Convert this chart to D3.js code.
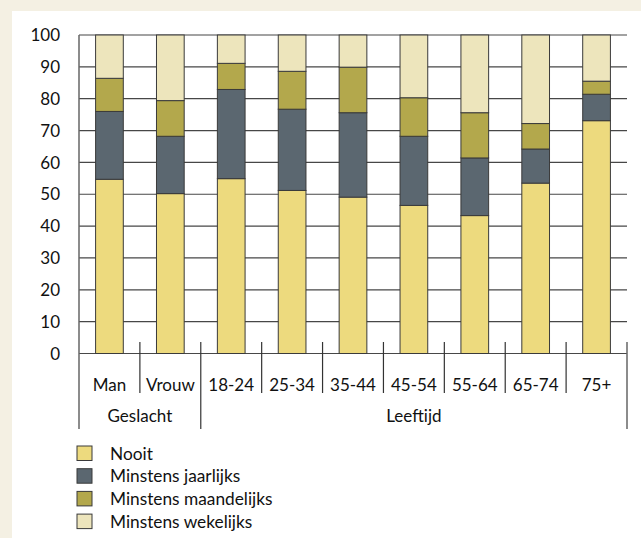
<!DOCTYPE html>
<html>
<head>
<meta charset="utf-8">
<script src="https://cdn.jsdelivr.net/npm/d3@7"></script>
<style>
  html, body { margin: 0; padding: 0; background: #F4F0E3; }
  svg { display: block; }
  text { font-family: Lato, "Open Sans", sans-serif; fill: #111; }
</style>
</head>
<body>
<svg id="chart" width="641" height="538"></svg>
<script>
const categories = ["Man", "Vrouw", "18-24", "25-34", "35-44", "45-54", "55-64", "65-74", "75+"];
const groups = [
  { name: "Geslacht", members: ["Man", "Vrouw"] },
  { name: "Leeftijd", members: ["18-24", "25-34", "35-44", "45-54", "55-64", "65-74", "75+"] }
];
const seriesNames = ["Nooit", "Minstens jaarlijks", "Minstens maandelijks", "Minstens wekelijks"];
const nooit       = [54.7, 50.2, 54.9, 51.2, 49.1, 46.5, 43.3, 53.5, 73.1];
const jaarlijks   = [21.3, 18.0, 28.0, 25.5, 26.5, 21.7, 18.1, 10.7,  8.3];
const maandelijks = [10.4, 11.2,  8.2, 11.9, 14.3, 12.1, 14.2,  8.0,  4.1];
const wekelijks   = [13.6, 20.6,  8.9, 11.4, 10.1, 19.7, 24.4, 27.8, 14.5];
const yTicks = [0, 10, 20, 30, 40, 50, 60, 70, 80, 90, 100];
const colors = ["#EDDA7E", "#5B6770", "#B3A84C", "#EDE5BC"];

(function () {
const rows = categories.map((c, i) => ({
  cat: c,
  "Nooit": nooit[i],
  "Minstens jaarlijks": jaarlijks[i],
  "Minstens maandelijks": maandelijks[i],
  "Minstens wekelijks": wekelijks[i]
}));

const svg = d3.select("#chart");
svg.append("rect").attr("x", 12).attr("y", 11).attr("width", 641 - 12).attr("height", 538 - 11).attr("fill", "#ffffff");

const pL = 79, pR = 627, pT = 35, pB = 353.5;
const fs = 17;
const x = d3.scaleBand().domain(categories).range([pL, pR]).paddingInner(0.545).paddingOuter(0.2725);
const y = d3.scaleLinear().domain([0, 100]).range([pB, pT]);

const gridColor = "#474747";

svg.append("g").selectAll("line").data(yTicks).join("line")
  .attr("x1", pL).attr("x2", pR)
  .attr("y1", d => y(d)).attr("y2", d => y(d))
  .attr("stroke", gridColor).attr("stroke-width", 1.2);

svg.append("g").selectAll("text").data(yTicks).join("text")
  .attr("x", 60).attr("y", d => y(d)).attr("dy", "0.36em")
  .attr("text-anchor", "end").attr("font-size", fs)
  .text(d => d);

svg.append("line").attr("x1", pL).attr("x2", pL).attr("y1", pT).attr("y2", 429)
  .attr("stroke", "#666").attr("stroke-width", 1.5);

const stack = d3.stack().keys(seriesNames)(rows);
svg.append("g").selectAll("g").data(stack).join("g")
  .attr("fill", (d, i) => colors[i])
  .selectAll("rect").data(d => d).join("rect")
  .attr("x", d => x(d.data.cat))
  .attr("width", x.bandwidth())
  .attr("y", d => y(d[1]))
  .attr("height", d => y(d[0]) - y(d[1]))
  .attr("stroke", "#3a3a3a").attr("stroke-width", 1);

const step = x.step();
const boundaries = d3.range(1, categories.length).map(i => pL + i * step);
const groupEnds = [];
let acc = 0;
groups.forEach(g => { acc += g.members.length; groupEnds.push(acc); });
svg.append("g").selectAll("line").data(boundaries).join("line")
  .attr("x1", d => d).attr("x2", d => d)
  .attr("y1", 342).attr("y2", (d, i) => groupEnds.includes(i + 1) ? 429 : 393)
  .attr("stroke", "#333").attr("stroke-width", 1.2);
svg.append("line").attr("x1", pR).attr("x2", pR).attr("y1", 342).attr("y2", 429)
  .attr("stroke", "#666").attr("stroke-width", 1.5);

svg.append("g").selectAll("text").data(categories).join("text")
  .attr("x", d => x(d) + x.bandwidth() / 2).attr("y", 391)
  .attr("text-anchor", "middle").attr("font-size", fs)
  .text(d => d);

let start = 0;
groups.forEach(g => {
  const gx0 = pL + start * step, gx1 = pL + (start + g.members.length) * step;
  svg.append("text").attr("x", (gx0 + gx1) / 2)
    .attr("y", 422).attr("text-anchor", "middle").attr("font-size", fs).text(g.name);
  start += g.members.length;
});

const legend = svg.append("g").selectAll("g").data(seriesNames).join("g")
  .attr("transform", (d, i) => `translate(77, ${446 + i * 22.7})`);
legend.append("rect").attr("width", 15).attr("height", 14.5)
  .attr("fill", (d, i) => colors[i]).attr("stroke", "#3a3a3a").attr("stroke-width", 1);
legend.append("text").attr("x", 33).attr("y", 7.3).attr("dy", "0.36em")
  .attr("font-size", 17.3).text(d => d);
})();
</script>
</body>
</html>
